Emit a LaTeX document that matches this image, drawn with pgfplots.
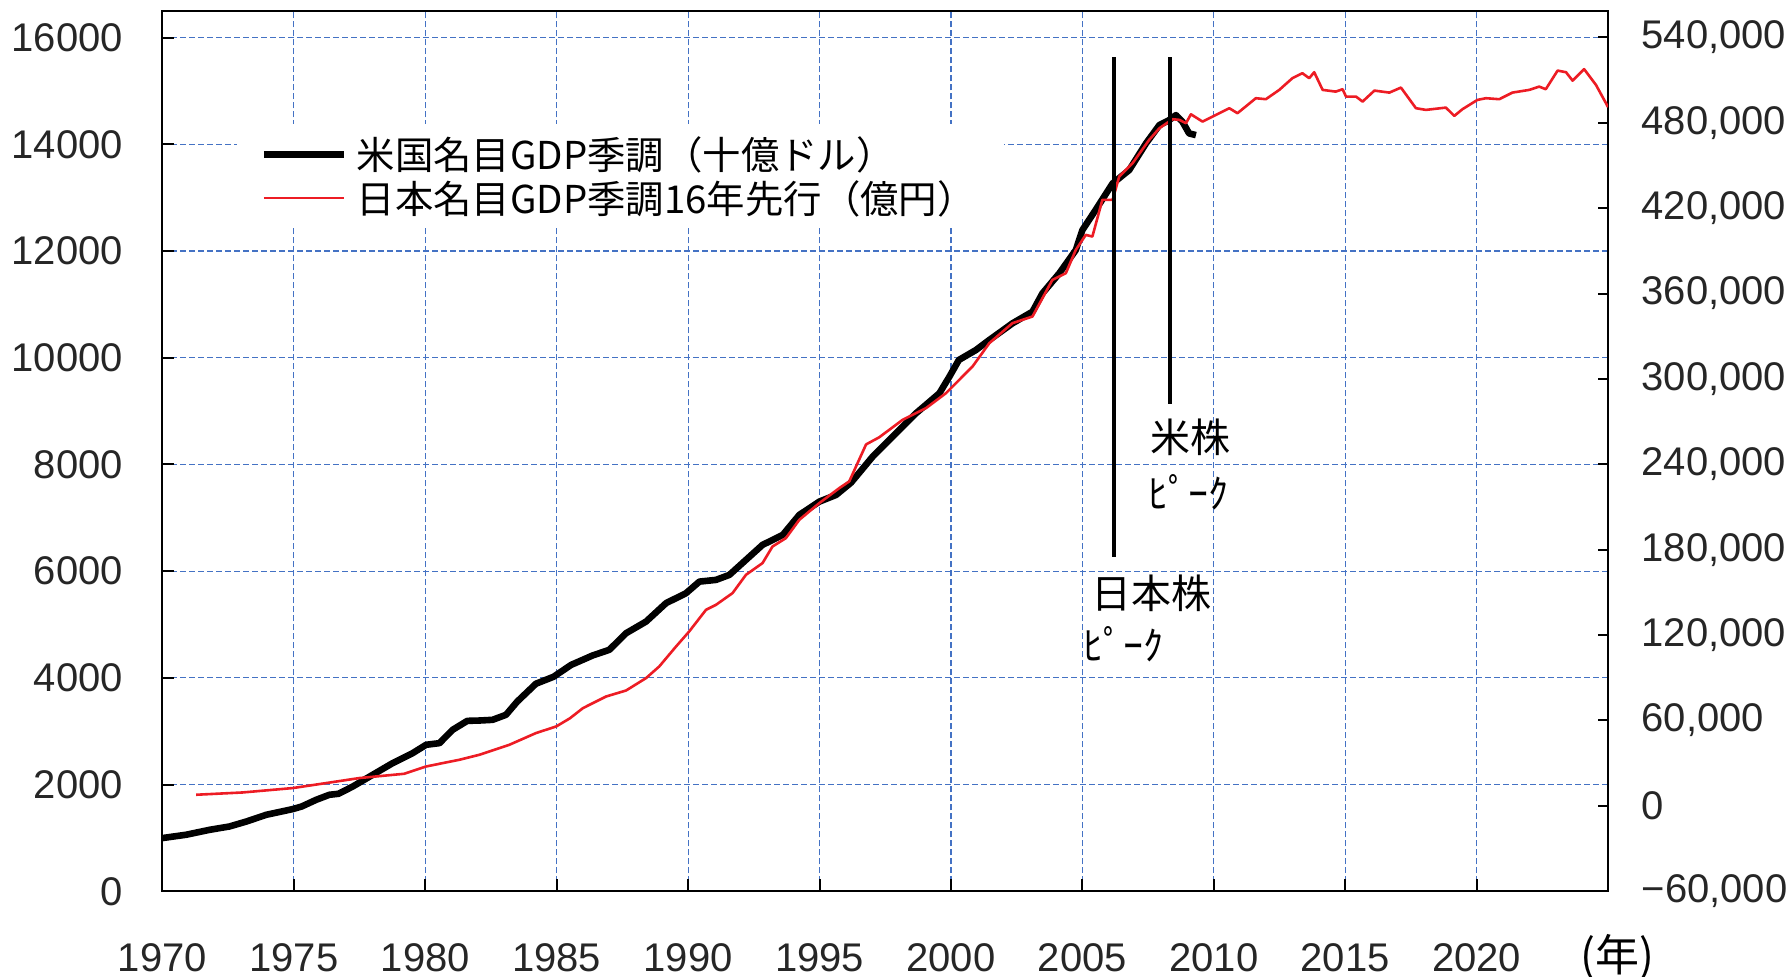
\documentclass[border=0pt]{standalone}
\usepackage{pgfplots}
\pgfplotsset{compat=1.18}
\usepackage{fontspec}
\setmainfont{Liberation Sans}
\newfontfamily\jp{Noto Sans CJK JP}
\definecolor{gridblue}{RGB}{68,114,196}
\definecolor{jpred}{RGB}{237,28,36}

\begin{document}
\begin{tikzpicture}
\useasboundingbox (-81.25pt,-42.75pt) rectangle (814.5pt,445.75pt);
\begin{axis}[
  name=main,
  at={(0,0)}, anchor=south west,
  scale only axis, width=723pt, height=440.25pt,
  xmin=1970, xmax=2025, ymin=0, ymax=16500,
  xtick={1970,1975,...,2020},
  xticklabels={1970,1975,1980,1985,1990,1995,2000,2005,2010,2015,2020},
  ytick={0,2000,...,16000},
  yticklabels={0,2000,4000,6000,8000,10000,12000,14000,16000},
  xtick pos=bottom, ytick pos=left,
  tick align=inside,
  major tick length=6pt,
  tick style={black, line width=1pt},
  grid=major,
  major grid style={color=gridblue, line width=0.6pt, dash pattern=on 3pt off 1.5pt},
  axis line style={black, line width=1pt},
  ticklabel style={font=\fontsize{20}{24}\selectfont, text=black!85, inner sep=2pt},
  xticklabel style={yshift=-24.1pt},
  yticklabel style={xshift=-17.6pt},
  legend style={at={(rel axis cs:0.051,0.8716)}, anchor=north west, draw=none, fill=white,
    font=\jp\fontsize{19.2}{22}\selectfont, inner xsep=12pt, inner ysep=4pt, row sep=0pt},
  legend cell align=left,
  legend image code/.code={\draw[#1] (0pt,0pt) -- (40pt,0pt); \path (42.8pt,0pt);},
]
\addplot[black, line width=3.3pt, line join=round] coordinates {
(1970.0,997) (1970.9,1059) (1971.8,1152) (1972.55,1214) (1973.2,1308) (1973.95,1433)
(1974.96,1540) (1975.3,1589) (1975.85,1714) (1976.35,1808) (1976.7,1827) (1977.24,1963)
(1978.0,2183) (1978.76,2402) (1979.52,2589) (1980.03,2745) (1980.54,2776) (1981.04,3026)
(1981.6,3194) (1982.06,3200) (1982.56,3213) (1983.07,3307) (1983.5,3556) (1984.21,3890)
(1984.88,4020) (1985.55,4243) (1986.37,4420) (1987.0,4525) (1987.64,4837) (1988.4,5055)
(1989.16,5400) (1989.92,5587) (1990.43,5804) (1991.06,5836) (1991.57,5930) (1992.2,6211)
(1992.83,6492) (1993.6,6679) (1994.23,7054) (1994.99,7303) (1995.63,7429) (1996.2,7660)
(1997.02,8146) (1997.4,8333) (1998.67,8959) (1999.56,9334) (1999.94,9645) (2000.3,9958)
(2000.95,10145) (2001.46,10333) (2002.34,10645) (2003.1,10863) (2003.48,11207) (2004.12,11582)
(2004.75,12019) (2005.0,12393) (2005.5,12768) (2006.15,13268) (2006.78,13517) (2007.42,14018)
(2007.93,14361) (2008.3,14454) (2008.56,14548) (2008.81,14422) (2009.06,14205) (2009.32,14173)
};
\addlegendentry{米国名目GDP季調（十億ドル）}
\addlegendimage{jpred, line width=1.3pt}
\addlegendentry{日本名目GDP季調16年先行（億円）}
\end{axis}

\begin{axis}[
  at={(0,0)}, anchor=south west,
  scale only axis, width=723pt, height=440.25pt,
  xmin=1970, xmax=2025, ymin=-60000, ymax=558600,
  hide x axis,
  axis y line*=right,
  ytick={-60000,0,...,540000},
  yticklabels={{−60,000},{0},{60,000},{120,000},{180,000},{240,000},{300,000},{360,000},{420,000},{480,000},{540,000}},
  scaled y ticks=false,
  tick align=inside,
  major tick length=5pt,
  tick style={black, line width=1pt},
  axis line style={black, line width=1pt},
  ticklabel style={font=\fontsize{20}{24}\selectfont, text=black!85, inner sep=2pt},
  yticklabel style={xshift=14.6pt},
]
\addplot[jpred, line width=1.3pt, line join=round] coordinates {
(1971.28,7801) (1973.05,9416) (1974.96,12508) (1976.23,16021) (1977.49,19534) (1979.2,22555)
(1980.03,27685) (1981.3,32393) (1982.06,35906) (1983.2,42932) (1984.21,51152) (1984.98,55789)
(1985.5,61500) (1986.0,68714) (1986.88,76864) (1987.64,81080) (1988.4,89792) (1988.9,97942)
(1989.54,111995) (1990.04,122534) (1990.68,137780) (1991.06,141293) (1991.69,149513) (1992.2,162371)
(1992.83,170591) (1993.21,182254) (1993.72,188156) (1994.23,201015) (1994.99,212748) (1995.75,223288)
(1996.13,228000) (1996.77,254000) (1997.27,259000) (1998.16,271270) (1999.05,279500) (1999.81,290030)
(2000.82,308740) (2001.46,325170) (2002.34,339220) (2003.1,343860) (2003.86,369640) (2004.37,374340)
(2004.75,390720) (2005.13,401260) (2005.38,400070) (2005.76,425850) (2006.15,425850) (2006.4,442220)
(2006.91,451630) (2007.54,468000) (2007.93,476200) (2008.43,482550) (2008.69,482070) (2008.94,479740)
(2009.13,486000) (2009.57,480860) (2009.95,484380) (2010.59,490270) (2010.9,486760) (2011.6,497300)
(2011.98,496600) (2012.49,503140) (2012.99,511360) (2013.37,514870) (2013.63,511360) (2013.82,515570)
(2014.14,503140) (2014.64,501930) (2014.9,503620) (2015.03,498440) (2015.41,498440) (2015.66,494920)
(2016.11,502650) (2016.68,501240) (2017.12,504760) (2017.69,490270) (2018.07,489090) (2018.83,490700)
(2019.15,484870) (2019.46,489570) (2020.03,496110) (2020.35,497300) (2020.86,496600) (2021.36,501240)
(2022.0,503140) (2022.38,505460) (2022.63,503620) (2023.08,516700) (2023.4,515570) (2023.65,509670)
(2024.09,517700) (2024.54,506640) (2024.92,493800) (2025.0,491000)
};
\addplot[black, line width=1.7pt] coordinates {(2006.2,175013) (2006.2,526275)};
\addplot[black, line width=1.7pt] coordinates {(2008.33,282488) (2008.33,526275)};
\node[anchor=west, inner sep=0pt, font=\jp\fontsize{20}{24}\selectfont] at (rel axis cs:0.6832,0.5162) {米株};
\node[anchor=west, inner sep=0pt, font=\jp\fontsize{20}{24}\selectfont] at (rel axis cs:0.6818,0.4537) {ﾋﾟｰｸ};
\node[anchor=west, inner sep=0pt, font=\jp\fontsize{20}{24}\selectfont] at (rel axis cs:0.6423,0.339) {日本株};
\node[anchor=west, inner sep=0pt, font=\jp\fontsize{20}{24}\selectfont] at (rel axis cs:0.6368,0.2811) {ﾋﾟｰｸ};
\end{axis}
\node[font=\jp\fontsize{22}{26}\selectfont] at ([xshift=4.8pt,yshift=-33pt]main.south east) {(年)};
\end{tikzpicture}
\end{document}
